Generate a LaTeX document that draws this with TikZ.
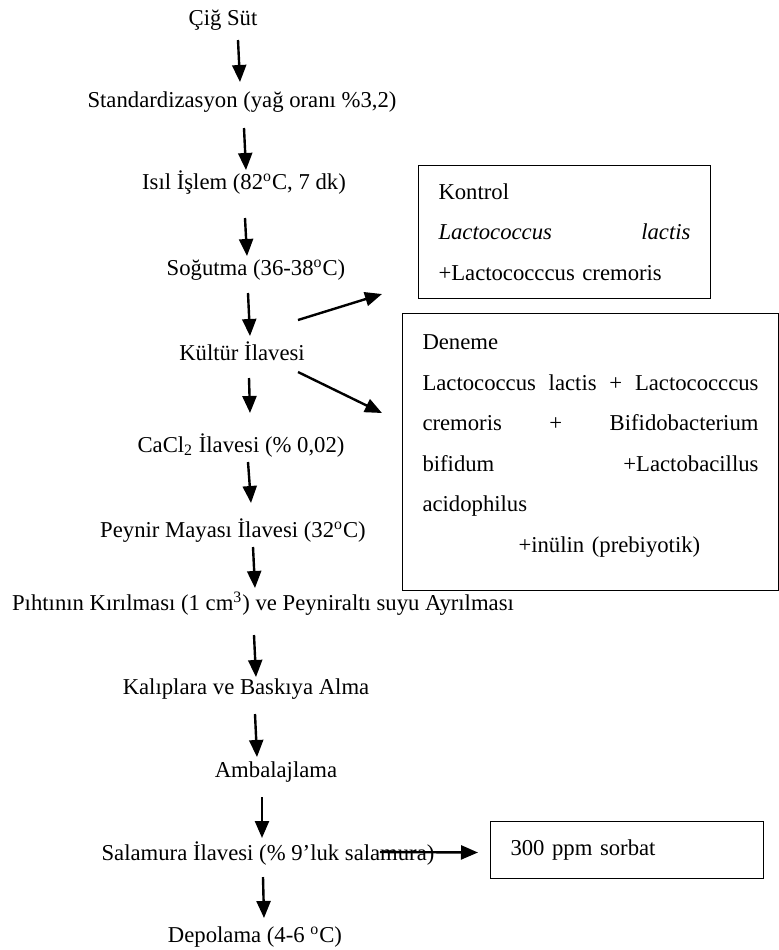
\documentclass[tikz,border=0pt]{standalone}
\usepackage{fontspec}
\setmainfont{Liberation Serif}
\usetikzlibrary{arrows.meta,calc}

\begin{document}
\begin{tikzpicture}[x=0.5pt,y=-0.5pt,
		asama/.style={anchor=base,inner sep=0pt,font=\fontsize{11.35}{13.6}\selectfont},
		kutu/.style={draw,line width=0.5pt,anchor=north west,align=left,inner xsep=10pt,inner ysep=0pt,font=\fontsize{11.35}{20.25}\selectfont},
		ok/.style={line width=1.2pt,-{Triangle[length=8.5pt,width=7pt]}}]
					\useasboundingbox (0,0) rectangle (779,950);
					
					\node[asama] (cig) at (223,25) {Çiğ Süt};
					\node[asama] (std) at (242,107) {Standardizasyon (yağ oranı \%3,2)};
					\node[asama] (isil) at (244,189) {Isıl İşlem (82\textsuperscript{o}C, 7 dk)};
					\node[asama] (sog) at (256,275) {Soğutma (36-38\textsuperscript{o}C)};
					\node[asama] (kul) at (242,360) {Kültür İlavesi};
					\node[asama] (cacl) at (241,452) {CaCl\textsubscript{2} İlavesi (\% 0,02)};
					\node[asama] (pey) at (233,537) {Peynir Mayası İlavesi (32\textsuperscript{o}C)};
					\node[asama] (pih) at (263,610) {Pıhtının Kırılması (1 cm\textsuperscript{3}) ve Peyniraltı suyu Ayrılması};
					\node[asama] (kal) at (246,694) {Kalıplara ve Baskıya Alma};
					\node[asama] (amb) at (276,777) {Ambalajlama};
					\node[asama] (sal) at (268,860) {Salamura İlavesi (\% 9’luk salamura)};
					\node[asama] (dep) at (255,942) {Depolama (4-6 \textsuperscript{o}C)};
					
					\node[kutu,text width=126pt,minimum width=146pt,minimum height=66.5pt] (kontrol) at (418,165)
						{Kontrol\\ \textit{Lactococcus}\hfill\textit{lactis}\\ +Lactococccus cremoris};
					\node[kutu,text width=168pt,minimum width=188pt,minimum height=138.5pt] (deneme) at (402,313)
						{Deneme\\ Lactococcus\hfill lactis\hfill +\hfill Lactococccus\\ cremoris\hfill +\hfill Bifidobacterium\\ bifidum\hfill +Lactobacillus\\ acidophilus\\ \hspace*{48pt}+inülin (prebiyotik)\rule[-8.5pt]{0pt}{1pt}};
					\node[kutu,text width=116.5pt,minimum width=136.5pt,minimum height=28.5pt] (sorbat) at (490,821) {300 ppm sorbat};
					
					\draw[ok] ($(cig.base)+(15,15)$) -- ($(std.base)+(-2,-25)$);
					\draw[ok] ($(std.base)+(2,21)$) -- ($(isil.base)+(2,-19)$);
					\draw[ok] ($(isil.base)+(1,29)$) -- ($(sog.base)+(-9,-19)$);
					\draw[ok] ($(sog.base)+(-8,18)$) -- ($(kul.base)+(8,-24)$);
					\draw[ok] ($(kul.base)+(7,18)$) -- ($(cacl.base)+(9,-39)$);
					\draw[ok] ($(cacl.base)+(7,10)$) -- ($(pey.base)+(18,-34)$);
					\draw[ok] ($(pey.base)+(20,10)$) -- ($(pih.base)+(-8,-22)$);
					\draw[ok] ($(pih.base)+(-9,25)$) -- ($(kal.base)+(10,-17)$);
					\draw[ok] ($(kal.base)+(9,20)$) -- ($(amb.base)+(-19,-20)$);
					\draw[ok] ($(amb.base)+(-14,20)$) -- ($(sal.base)+(-6,-22)$);
					\draw[ok] ($(sal.base)+(-5,17)$) -- ($(dep.base)+(9,-24)$);
					
					\draw[ok] ($(kul.base)+(56,-40)$) -- ($(kontrol.south west)+(-36,-5)$);
					\draw[ok] ($(kul.base)+(56,12)$) -- ($(deneme.north west)+(-20,100)$);
					\draw[ok] ($(sal.base)+(112,-8)$) -- ($(sorbat.west)+(-12,2.5)$);
				\end{tikzpicture}
\end{document}
